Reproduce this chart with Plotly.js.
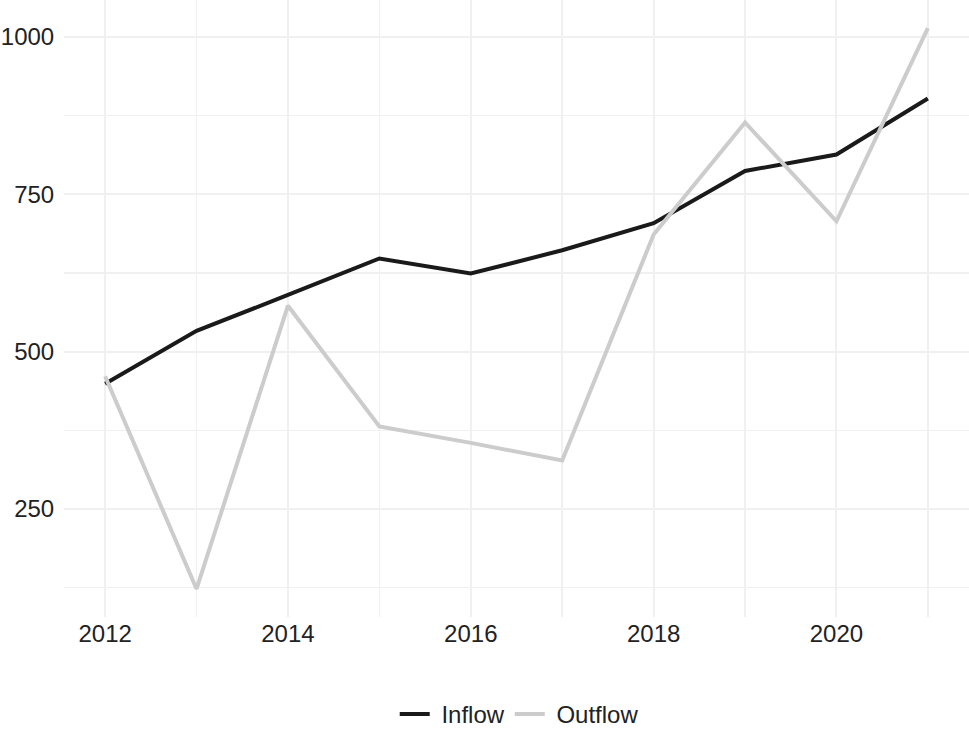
<!DOCTYPE html>
<html>
<head>
<meta charset="utf-8">
<script src="https://cdn.plot.ly/plotly-3.0.1.min.js"></script>
<style>
  html, body { margin: 0; padding: 0; background: #fff; }
  #chart { width: 969px; height: 731px; }
</style>
</head>
<body>
<div id="chart"></div>
<script>
// values
const years = [2012, 2013, 2014, 2015, 2016, 2017, 2018, 2019, 2020, 2021];
const inflow = [449, 533, 590, 648, 624, 661, 704, 787, 813, 902];
const outflow = [461, 123, 573, 381, 355, 327, 686, 864, 707, 1014];

const xTicks = [2012, 2014, 2016, 2018, 2020];
const yTicks = [250, 500, 750, 1000];

const font = { family: '"Liberation Sans", Arial, Helvetica, sans-serif', size: 24, color: '#222' };
const gridColor = '#f0f0f0';

const traces = [
    {
        type: 'scatter', mode: 'lines', name: '\u00a0Inflow',
        x: years, y: inflow,
        line: { color: '#1a1a1a', width: 4 }
    },
    {
        type: 'scatter', mode: 'lines', name: '\u00a0Outflow',
        x: years, y: outflow,
        line: { color: '#cccccc', width: 4 }
    }
];

const layout = {
    width: 969,
    height: 731,
    margin: { l: 64, r: 0, t: 0, b: 114, autoexpand: false },
    paper_bgcolor: '#fff',
    plot_bgcolor: '#fff',
    font: font,
    showlegend: true,
    legend: {
        orientation: 'h',
        x: 0.503, xanchor: 'center',
        y: -0.158, yanchor: 'middle',
        font: font,
        itemwidth: 30
    },
    xaxis: {
        range: [2011.55, 2021.45],
        tickvals: xTicks,
        ticktext: xTicks.map(String),
        showgrid: true,
        gridcolor: gridColor,
        gridwidth: 2,
        zeroline: false,
        showline: false,
        ticks: '',
        minor: { dtick: 1, tick0: 2013, showgrid: true, gridcolor: gridColor, gridwidth: 1.5 },
        tickfont: font
    },
    yaxis: {
        range: [78.45, 1058.55],
        tickvals: yTicks,
        ticktext: yTicks.map(String),
        showgrid: true,
        gridcolor: gridColor,
        gridwidth: 2,
        zeroline: false,
        showline: false,
        ticks: 'outside', ticklen: 4, tickcolor: 'rgba(0,0,0,0)',
        minor: { dtick: 250, tick0: 125, showgrid: true, gridcolor: gridColor, gridwidth: 1.5 },
        tickfont: font
    }
};

Plotly.newPlot('chart', traces, layout, { displayModeBar: false, staticPlot: true });
</script>
</body>
</html>
